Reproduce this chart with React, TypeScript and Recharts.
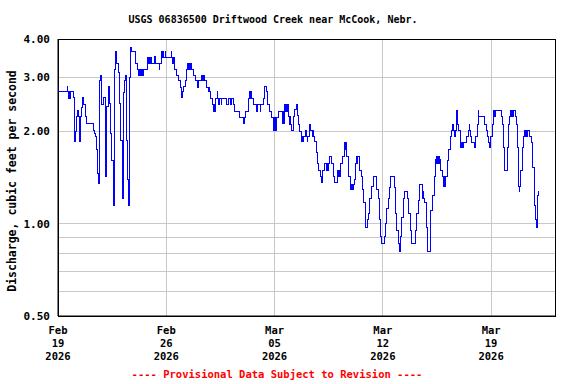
import { LineChart, Line, XAxis, YAxis, CartesianGrid, ReferenceArea } from "recharts";

// [days since Feb 19 2026 00:00, discharge in cfs]
const weekOne: [number, number][] = [
  [0.0, 2.79], [0.04, 2.69], [0.6, 2.79], [0.63, 2.69], [0.66, 2.55], [0.7, 2.69], [0.73, 2.55], [0.77, 2.69], [0.8, 2.55], [0.83, 2.69],
  [0.99, 2.57], [1.05, 1.92], [1.08, 1.85], [1.12, 2.0], [1.2, 2.23], [1.28, 2.34], [1.35, 2.23], [1.38, 1.85], [1.42, 2.23], [1.45, 1.85],
  [1.48, 2.23], [1.52, 2.4], [1.6, 2.57], [1.68, 2.44], [1.76, 2.23], [1.86, 2.12], [2.28, 2.02], [2.34, 1.97], [2.41, 1.93], [2.48, 1.75],
  [2.54, 1.46], [2.61, 1.35], [2.67, 2.94], [2.73, 3.05], [2.82, 2.44], [2.95, 2.57], [3.04, 1.97], [3.08, 1.42], [3.15, 2.41], [3.25, 2.79],
  [3.32, 2.47], [3.38, 1.97], [3.49, 1.61], [3.56, 1.24], [3.6, 1.15], [3.64, 3.19], [3.7, 3.63], [3.81, 3.34], [3.88, 3.1], [3.99, 2.47],
  [4.07, 1.87], [4.14, 1.49], [4.2, 1.21], [4.25, 2.67], [4.3, 2.94], [4.36, 3.05], [4.42, 2.41], [4.46, 1.87], [4.52, 1.39], [4.55, 1.15],
  [4.58, 1.39], [4.61, 1.15], [4.65, 3.0], [4.7, 3.74], [4.78, 3.63], [5.0, 3.47], [5.04, 3.34], [5.11, 3.19], [5.22, 3.05], [5.25, 3.19],
  [5.29, 3.05], [5.33, 3.19], [5.37, 3.05], [5.42, 3.19], [5.48, 3.05], [5.52, 3.19], [5.77, 3.47], [5.81, 3.34], [5.86, 3.47], [5.91, 3.34],
  [5.96, 3.47], [6.02, 3.34], [6.27, 3.5], [6.3, 3.34], [6.55, 3.19], [6.58, 3.34], [6.66, 3.47], [6.72, 3.63], [6.75, 3.47], [6.81, 3.63],
  [6.84, 3.47], [6.92, 3.63], [6.95, 3.47],
];

const weekTwo: [number, number][] = [
  [7.31, 3.63], [7.34, 3.47], [7.38, 3.34], [7.42, 3.47], [7.46, 3.34], [7.5, 3.47], [7.56, 3.19], [7.67, 3.05], [7.78, 2.94], [7.89, 2.77],
  [8.0, 2.57], [8.06, 2.69], [8.14, 2.79], [8.25, 2.94], [8.32, 3.19], [8.36, 3.34], [8.4, 3.19], [8.44, 3.34], [8.48, 3.19], [8.52, 3.34],
  [8.56, 3.19], [8.6, 3.34], [8.64, 3.19], [8.75, 3.05], [8.86, 2.94], [9.0, 2.77], [9.03, 2.94], [9.06, 2.77], [9.09, 2.94], [9.29, 3.05],
  [9.33, 2.94], [9.37, 3.05], [9.41, 2.94], [9.44, 3.05], [9.46, 2.94], [9.61, 2.77], [9.72, 2.69], [9.76, 2.77], [9.8, 2.69], [9.89, 2.56],
  [10.0, 2.44], [10.04, 2.32], [10.07, 2.44], [10.1, 2.32], [10.15, 2.56], [10.3, 2.69], [10.33, 2.56], [10.36, 2.44], [10.41, 2.56], [10.56, 2.44],
  [10.6, 2.56], [10.9, 2.44], [11.01, 2.56], [11.12, 2.44], [11.23, 2.56], [11.33, 2.44], [11.4, 2.32], [11.72, 2.22], [12.02, 2.12], [12.06, 2.22],
  [12.15, 2.32], [12.3, 2.56], [12.41, 2.69], [12.45, 2.56], [12.49, 2.69], [12.52, 2.56], [12.62, 2.44], [12.84, 2.32], [12.88, 2.44], [13.06, 2.32],
  [13.1, 2.44], [13.3, 2.56], [13.34, 2.69], [13.38, 2.8], [13.45, 2.69], [13.53, 2.44], [13.65, 2.32], [13.78, 2.22], [13.9, 2.02], [13.94, 2.22],
  [13.98, 2.02], [14.02, 2.22], [14.07, 2.02], [14.14, 2.22], [14.24, 2.32],
];

const weekThree: [number, number][] = [
  [14.35, 2.32], [14.5, 2.12], [14.54, 2.32], [14.58, 2.12], [14.63, 2.32], [14.67, 2.44], [14.71, 2.32], [14.76, 2.44], [14.8, 2.32], [14.85, 2.44],
  [14.89, 2.32], [14.93, 2.23], [14.97, 2.11], [15.01, 2.23], [15.05, 2.11], [15.11, 2.02], [15.21, 2.23], [15.32, 2.35], [15.39, 2.44], [15.49, 2.25],
  [15.58, 2.11], [15.64, 2.0], [15.71, 1.92], [15.75, 1.85], [15.8, 1.92], [15.85, 1.85], [15.9, 1.92], [16.01, 2.02], [16.04, 1.92], [16.1, 1.85],
  [16.14, 1.92], [16.29, 2.11], [16.34, 2.02], [16.44, 1.92], [16.47, 2.02], [16.5, 1.92], [16.57, 1.85], [16.68, 1.71], [16.76, 1.57], [16.83, 1.49],
  [16.94, 1.42], [17.05, 1.36], [17.08, 1.42], [17.11, 1.49], [17.26, 1.57], [17.33, 1.49], [17.37, 1.57], [17.4, 1.49], [17.47, 1.57], [17.58, 1.65],
  [17.69, 1.57], [17.8, 1.42], [17.86, 1.36], [18.08, 1.49], [18.12, 1.42], [18.16, 1.49], [18.2, 1.42], [18.29, 1.57], [18.4, 1.65], [18.51, 1.74],
  [18.55, 1.84], [18.58, 1.74], [18.61, 1.84], [18.66, 1.65], [18.77, 1.42], [18.88, 1.29], [18.94, 1.34], [18.98, 1.29], [19.03, 1.34], [19.08, 1.29],
  [19.12, 1.34], [19.2, 1.39], [19.26, 1.57], [19.3, 1.65], [19.33, 1.57], [19.37, 1.65], [19.46, 1.49], [19.59, 1.42], [19.7, 1.29], [19.78, 1.17],
  [19.85, 1.03], [19.91, 0.97], [20.02, 1.03], [20.1, 1.08], [20.17, 1.21], [20.28, 1.32], [20.38, 1.42], [20.6, 1.29], [20.71, 1.21], [20.81, 1.03],
  [20.88, 0.91], [20.92, 0.86],
];

const weekFour: [number, number][] = [
  [21.09, 0.91], [21.18, 1.0], [21.25, 1.12], [21.35, 1.21], [21.46, 1.31], [21.52, 1.42], [21.74, 1.31], [21.83, 1.08], [21.89, 0.95], [22.0, 0.86],
  [22.06, 0.81], [22.13, 0.91], [22.22, 1.05], [22.32, 1.21], [22.43, 1.27], [22.61, 1.21], [22.69, 1.08], [22.8, 0.95], [22.86, 0.86], [23.08, 0.95],
  [23.19, 1.08], [23.29, 1.19], [23.36, 1.34], [23.55, 1.27], [23.58, 1.21], [23.62, 1.27], [23.66, 1.21], [23.72, 1.17], [23.83, 0.97], [23.9, 0.81],
  [24.05, 0.97], [24.11, 1.1], [24.22, 1.24], [24.34, 1.42], [24.41, 1.62], [24.45, 1.57], [24.5, 1.65], [24.55, 1.57], [24.6, 1.65], [24.65, 1.57],
  [24.69, 1.62], [24.76, 1.49], [24.87, 1.42], [24.93, 1.32], [24.97, 1.42], [25.0, 1.32], [25.06, 1.42], [25.16, 1.61], [25.27, 1.74], [25.36, 1.92],
  [25.45, 2.02], [25.49, 2.11], [25.55, 2.02], [25.62, 1.92], [25.71, 2.02], [25.77, 2.33], [25.84, 2.11], [25.92, 2.02], [25.99, 1.84], [26.04, 1.77],
  [26.09, 1.84], [26.14, 1.77], [26.2, 1.84], [26.42, 1.92], [26.57, 2.02], [26.6, 2.11], [26.62, 2.02], [26.64, 1.92], [26.74, 1.84], [26.91, 1.77],
  [27.02, 1.92], [27.1, 2.11], [27.17, 2.33], [27.21, 2.24], [27.6, 2.11], [27.71, 2.02], [27.78, 1.92], [27.86, 1.84], [27.91, 1.77], [27.99, 1.92],
];

const weekFive: [number, number][] = [
  [28.07, 2.11], [28.14, 2.33], [28.18, 2.24], [28.22, 2.33], [28.26, 2.24], [28.3, 2.33], [28.64, 2.24], [28.72, 2.11], [28.78, 1.77], [28.85, 1.63],
  [28.89, 1.49], [29.04, 1.77], [29.1, 2.11], [29.22, 2.24], [29.28, 2.33], [29.32, 2.24], [29.36, 2.33], [29.4, 2.24], [29.44, 2.33], [29.59, 2.24],
  [29.65, 2.11], [29.72, 1.77], [29.75, 1.49], [29.8, 1.32], [29.83, 1.27], [29.86, 1.32], [29.93, 1.49], [30.01, 1.77], [30.08, 1.92], [30.19, 2.02],
  [30.23, 1.92], [30.27, 2.02], [30.31, 1.92], [30.35, 2.02], [30.45, 1.92], [30.62, 1.84], [30.69, 1.53], [30.79, 1.34], [30.83, 1.15], [30.88, 1.03],
  [30.94, 0.97], [30.97, 1.03], [31.01, 1.24], [31.09, 1.27], [31.1, 1.27],
];

const dateTicks = [0, 7, 14, 21, 28];
const dateLabels = [
  ["Feb", "19", "2026"],
  ["Feb", "26", "2026"],
  ["Mar", "05", "2026"],
  ["Mar", "12", "2026"],
  ["Mar", "19", "2026"],
];
const flowTicks = [0.5, 0.6, 0.7, 0.8, 0.9, 1, 2, 3, 4];
const labeledFlows = [0.5, 1, 2, 3, 4];

const dayDomain = [0, 32.13];
const flowDomain = [0.5, 4];

const flowData = [...weekOne, ...weekTwo, ...weekThree, ...weekFour, ...weekFive].map(([day, cfs]) => ({ day, cfs }));

const mono = "'DejaVu Sans Mono', 'Liberation Mono', monospace";

function DateTick({ x, y, payload }: any) {
  const lines = dateLabels[dateTicks.indexOf(payload.value)] || [];
  return (
    <text x={x} y={y} textAnchor="middle" fontFamily={mono} fontSize={10.5} fontWeight="bold" fill="#000">
      {lines.map((t, i) => (
        <tspan key={i} x={x} dy={i === 0 ? 10 : 12.8}>
          {t}
        </tspan>
      ))}
    </text>
  );
}

function AxisTitle() {
  return (
    <text
      x={12}
      y={181}
      transform="rotate(-90 12 181)"
      textAnchor="middle"
      dominantBaseline="central"
      fontFamily={mono}
      fontSize={11.5}
      fontWeight="bold"
      fill="#000"
    >
      Discharge, cubic feet per second
    </text>
  );
}

export default function App() {
  return (
    <div style={{ position: "absolute", left: 0, top: 0, width: 576, height: 384, background: "#fff" }}>
      <div
        style={{
          position: "absolute", left: 0, top: 14, width: 546, textAlign: "center",
          fontFamily: mono, fontSize: 10, lineHeight: "12px", fontWeight: "bold", color: "#000",
        }}
      >
        USGS 06836500 Driftwood Creek near McCook, Nebr.
      </div>
      <LineChart width={576} height={384} data={flowData} margin={{ top: 39, right: 21, left: 0, bottom: 0 }}>
        <CartesianGrid stroke="#c8c8c8" strokeWidth={1} shapeRendering="crispEdges" />
        <XAxis
          dataKey="day"
          type="number"
          domain={dayDomain}
          ticks={dateTicks}
          allowDataOverflow
          height={68}
          tickLine={false}
          axisLine={{ stroke: "#000" }}
          tick={<DateTick />}
          interval={0}
        />
        <YAxis
          dataKey="cfs"
          scale="log"
          domain={flowDomain}
          ticks={flowTicks}
          allowDataOverflow
          width={58}
          tickLine={false}
          axisLine={{ stroke: "#000" }}
          interval={0}
          tick={{ fontFamily: mono, fontSize: 11, fontWeight: "bold", fill: "#000" }}
          tickFormatter={(v: number) => (labeledFlows.includes(v) ? v.toFixed(2) : "")}
          label={<AxisTitle />}
        />
        <ReferenceArea
          x1={0}
          x2={32.13}
          y1={0.5}
          y2={4}
          fill="none"
          stroke="#000"
          strokeWidth={1}
          shapeRendering="crispEdges"
          ifOverflow="visible"
        />
        <Line
          type="stepAfter"
          dataKey="cfs"
          stroke="#0000ff"
          strokeWidth={1}
          dot={false}
          activeDot={false}
          shapeRendering="crispEdges"
          isAnimationActive={false}
        />
      </LineChart>
      <div
        style={{
          position: "absolute", left: 0, top: 368, width: 554, textAlign: "center",
          fontFamily: mono, fontSize: 10.5, lineHeight: "12px", fontWeight: "bold", color: "#ff0000",
        }}
      >
        ---- Provisional Data Subject to Revision ----
      </div>
    </div>
  );
}
